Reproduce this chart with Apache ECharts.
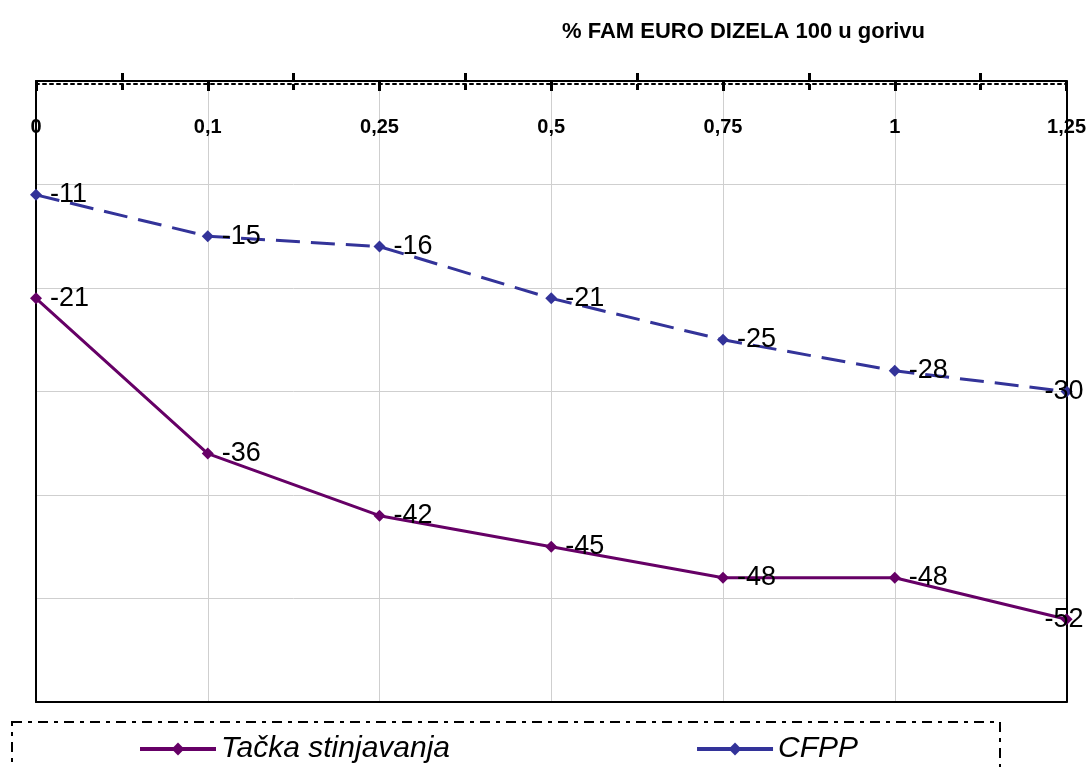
<!DOCTYPE html>
<html>
<head>
<meta charset="utf-8">
<script src="https://cdn.jsdelivr.net/npm/echarts@6/dist/echarts.min.js"></script>
<style>
  html, body { margin: 0; padding: 0; background: #fff; }
  #chart { width: 1089px; height: 767px; }
</style>
</head>
<body>
<div id="chart"></div>
<script>
// data
const categories = ['0', '0,1', '0,25', '0,5', '0,75', '1', '1,25']
const tackaStinjavanja = [-21, -36, -42, -45, -48, -48, -52]
const cfpp = [-11, -15, -16, -21, -25, -28, -30]
const midTicks = [0.5, 1.5, 2.5, 3.5, 4.5, 5.5]

const font = '"Liberation Sans", Arial, sans-serif'
const black = '#000'

const chart = echarts.init(document.getElementById('chart'))

const labelStyle = {
  show: true,
  position: 'right',
  distance: 8,
  fontFamily: font,
  fontSize: 27,
  color: black,
}

// last label is pulled back over its point so it stays on the page
function withLabels(values) {
  return values.map((v, i) =>
    i === values.length - 1 ? { value: v, label: { offset: [-36, 0] } } : v
  )
}

chart.setOption({
  animation: false,
  title: {
    text: '% FAM EURO DIZELA 100 u gorivu',
    left: 557,
    top: 16,
    textStyle: {
      fontFamily: font,
      fontSize: 22,
      fontWeight: 'bold',
      color: black,
    },
  },
  grid: {
    left: 36,
    right: 22,
    top: 81,
    bottom: 65,
  },
  legend: {
    left: 133,
    top: 729,
    itemWidth: 76,
    itemHeight: 16,
    itemGap: 245,
    textStyle: {
      fontFamily: font,
      fontSize: 30,
      fontStyle: 'italic',
      color: black,
    },
    data: [
      { name: 'Tačka stinjavanja', lineStyle: { type: 'solid', width: 4 } },
      { name: 'CFPP', lineStyle: { type: 'solid', width: 4 } },
    ],
  },
  graphic: [
    {
      // dashed frame round the legend
      type: 'rect',
      shape: { x: 12, y: 722, width: 988, height: 80 },
      style: { fill: 'none', stroke: black, lineWidth: 2, lineDash: [10, 6, 4, 6] },
      silent: true,
    },
  ],
  xAxis: [
    {
      type: 'category',
      position: 'top',
      boundaryGap: false,
      data: categories,
      axisLine: { show: true, onZero: false, lineStyle: { color: black, width: 2 } },
      axisTick: { show: true, inside: true, length: 10, lineStyle: { color: black, width: 3 } },
      axisLabel: {
        inside: true,
        margin: 36,
        fontFamily: font,
        fontSize: 20,
        fontWeight: 'bold',
        color: black,
      },
      splitLine: { show: true, lineStyle: { color: '#cfcfcf', width: 1 } },
    },
    {
      // crossing ticks half way between the categories (upper half)
      type: 'value',
      position: 'top',
      min: 0,
      max: 6,
      axisLine: { show: false, onZero: false },
      axisTick: { show: true, inside: false, length: 8, customValues: midTicks, lineStyle: { color: black, width: 3 } },
      axisLabel: { show: false },
      splitLine: { show: false },
    },
    {
      // lower half of those ticks, plus the dotted inner line
      type: 'value',
      position: 'top',
      offset: -3,
      min: 0,
      max: 6,
      axisLine: { show: true, onZero: false, lineStyle: { color: black, width: 2, type: [3, 4] } },
      axisTick: { show: true, inside: true, length: 6, customValues: midTicks, lineStyle: { color: black, width: 3 } },
      axisLabel: { show: false },
      splitLine: { show: false },
    },
    {
      // bottom edge of the plot
      type: 'value',
      position: 'bottom',
      min: 0,
      max: 6,
      axisLine: { show: true, onZero: false, lineStyle: { color: black, width: 2 } },
      axisTick: { show: false },
      axisLabel: { show: false },
      splitLine: { show: false },
    },
  ],
  yAxis: [
    {
      type: 'value',
      min: -60,
      max: 0,
      interval: 10,
      axisLine: { show: true, onZero: false, lineStyle: { color: black, width: 2 } },
      axisTick: { show: false },
      axisLabel: { show: false },
      splitLine: { show: true, lineStyle: { color: '#cfcfcf', width: 1 } },
    },
    {
      // right edge of the plot
      type: 'value',
      position: 'right',
      min: -60,
      max: 0,
      interval: 10,
      axisLine: { show: true, onZero: false, lineStyle: { color: black, width: 2 } },
      axisTick: { show: false },
      axisLabel: { show: false },
      splitLine: { show: false },
    },
  ],
  series: [
    {
      name: 'Tačka stinjavanja',
      type: 'line',
      data: withLabels(tackaStinjavanja),
      color: '#660066',
      symbol: 'diamond',
      symbolSize: 12,
      lineStyle: { width: 3, color: '#660066' },
      itemStyle: { color: '#660066' },
      label: labelStyle,
      z: 3,
    },
    {
      name: 'CFPP',
      type: 'line',
      data: withLabels(cfpp),
      color: '#333399',
      symbol: 'diamond',
      symbolSize: 12,
      lineStyle: { width: 3, color: '#333399', type: [24, 11] },
      itemStyle: { color: '#333399' },
      label: labelStyle,
      z: 3,
    },
  ],
})
</script>
</body>
</html>
